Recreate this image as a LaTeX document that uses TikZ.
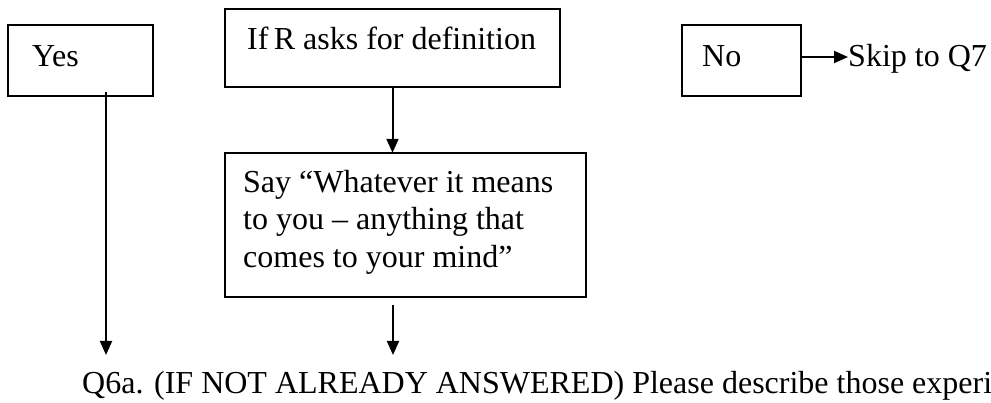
\documentclass[tikz,border=0pt]{standalone}
\usepackage{fontspec}
\setmainfont{Liberation Serif}
\usetikzlibrary{arrows.meta}
\begin{document}
\begin{tikzpicture}[x=1pt,y=-1pt,
  boxstyle/.style={draw=black,line width=2.2pt},
  txt/.style={anchor=base west,inner sep=0pt,font=\fontsize{32}{37.5}\selectfont},
  conn/.style={line width=2pt,-{Triangle[length=14pt,width=12pt]}}]
\useasboundingbox (0,0) rectangle (991,403);
% boxes
\draw[boxstyle] (8,25) rectangle (153,96);
\node[inner sep=0pt] (yes) at (80.5,60.5) {};
\draw[boxstyle] (225,9) rectangle (560,87);
\node[inner sep=0pt,minimum width=335pt,minimum height=78pt] (ifr) at (392.5,48) {};
\draw[boxstyle] (225,153) rectangle (586,297);
\node[inner sep=0pt,minimum width=361pt,minimum height=144pt] (say) at (405.5,225) {};
\draw[boxstyle] (682,25) rectangle (801,96);
\node[inner sep=0pt,minimum width=119pt,minimum height=71pt] (no) at (741.5,60.5) {};
% texts
\node[txt] (yest) at (32,67) {Yes};
\node[txt] (ifrt) at (247,50) {If\,R asks for definition};
\node[txt] (say1) at (243,193) {Say “Whatever it means};
\node[txt] (say2) at (243,230) {to you – anything that};
\node[txt] (say3) at (243,268) {comes to your mind”};
\node[txt] (not) at (702,67) {No};
\node[txt] (skip) at (848,67) {Skip to Q7};
\node[txt] (q6a) at (82,393) {Q6a. (IF NOT ALREADY ANSWERED) Please describe those experiences};
% connectors
\coordinate (yesstart) at (106,92);
\coordinate (yesend) at (106,355);
\coordinate (saystart) at (393,305);
\coordinate (sayend) at (393,355);
\coordinate (nostart) at (801,57);
\coordinate (noend) at (848,57);
\draw[conn] (yesstart) -- (yesend);
\draw[conn] (ifr.south) -- (ifr.south |- say.north);
\draw[conn] (saystart) -- (sayend);
\draw[conn] (nostart) -- (noend);
\end{tikzpicture}
\end{document}
